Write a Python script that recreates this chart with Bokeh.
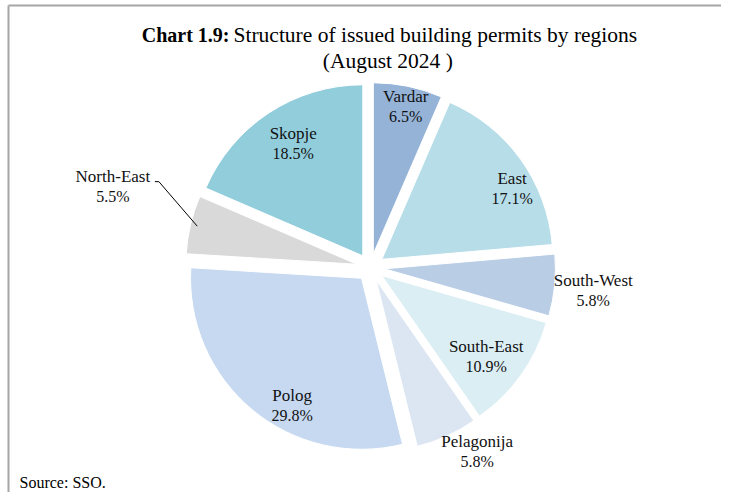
import numpy as np
from bokeh.plotting import figure
from bokeh.models import Range1d, ColumnDataSource
from bokeh.core.properties import value
from bokeh.embed import file_html
from bokeh.resources import INLINE

# ---- data ----
regions = ["Vardar", "East", "South-West", "South-East", "Pelagonija", "Polog", "North-East", "Skopje"]
shares = [6.5, 17.1, 5.8, 10.9, 5.8, 29.8, 5.5, 18.5]
colors = ["#95B3D7", "#B7DDE8", "#B9CDE5", "#DBEEF4", "#DCE6F2", "#C6D9F1", "#D9D9D9", "#92CDDC"]

title_bold = "Chart 1.9:"
title_rest = "Structure of issued building permits by regions"
title_line2 = "(August  2024 )"
source_text = "Source: SSO."

# ---- layout ----
FONT = "Liberation Serif"
cx, cy = 370.0, -267.0
R = 171.0
explode = 14.0
# label placement (polar from the pie centre): radius and angular tweak from bisector (deg)
lab_r = [165, 162, 224, 146, 213, 159, 270, 146]
lab_tweak = [0.6, 6.7, 0.5, 2.0, -5.7, -10.3, 4.0, 1.4]

p = figure(width=721, height=492, output_backend="svg", toolbar_location=None,
           x_range=Range1d(0, 721), y_range=Range1d(-492, 0), min_border=0)
p.axis.visible = False
p.xgrid.visible = False
p.ygrid.visible = False
p.outline_line_color = None
p.background_fill_color = "white"
p.border_fill_color = "white"

total = sum(shares)
cum = np.concatenate([[0.0], np.cumsum(shares)]) / total * 2 * np.pi
a0 = cum[:-1]
a1 = cum[1:]
bis = (a0 + a1) / 2
xs = cx + explode * np.sin(bis)
ys = cy + explode * np.cos(bis)

src = ColumnDataSource(dict(x=xs, y=ys, start=np.pi / 2 - a0, end=np.pi / 2 - a1, color=colors))
p.wedge(x="x", y="y", radius=R, start_angle="start", end_angle="end", direction="clock",
        fill_color="color", line_color="white", line_width=1, source=src)

# labels
la = bis + np.radians(lab_tweak)
lx = cx + np.array(lab_r) * np.sin(la)
ly = cy + np.array(lab_r) * np.cos(la)
names = regions
pcts = [f"{v:.1f}%" for v in shares]
p.text(x=lx, y=ly + 10, text=names, text_font=value(FONT), text_font_size="17px",
       text_align="center", text_baseline="middle", text_color="#111111")
p.text(x=lx, y=ly - 10, text=pcts, text_font=value(FONT), text_font_size="16px",
       text_align="center", text_baseline="middle", text_color="#111111")

# leader line for North-East
i = regions.index("North-East")
ex = xs[i] + 0.96 * R * np.sin(bis[i])
ey = ys[i] + 0.96 * R * np.cos(bis[i])
p.line(x=[lx[i] + 42, lx[i] + 46, ex], y=[ly[i] + 5, ly[i] + 5, ey], line_color="black", line_width=1)

# frame lines (top and left)
p.line(x=[8, 721], y=[-5, -5], line_color="#A6A6A6", line_width=2)
p.line(x=[8, 8], y=[-5, -492], line_color="#A6A6A6", line_width=2)

# title
p.text(x=[229], y=[-34], text=[title_bold], text_font=value(FONT), text_font_size="20px",
       text_font_style="bold", text_align="right", text_baseline="middle", text_color="black")
p.text(x=[233], y=[-34], text=[title_rest], text_font=value(FONT), text_font_size="21.5px",
       text_align="left", text_baseline="middle", text_color="black")
p.text(x=[390], y=[-60], text=[title_line2], text_font=value(FONT), text_font_size="21.5px",
       text_align="center", text_baseline="middle", text_color="black")

# source
p.text(x=[19], y=[-482], text=[source_text], text_font=value(FONT), text_font_size="16px",
       text_align="left", text_baseline="middle", text_color="black")

open("out.html", "w").write(file_html(p, INLINE))
